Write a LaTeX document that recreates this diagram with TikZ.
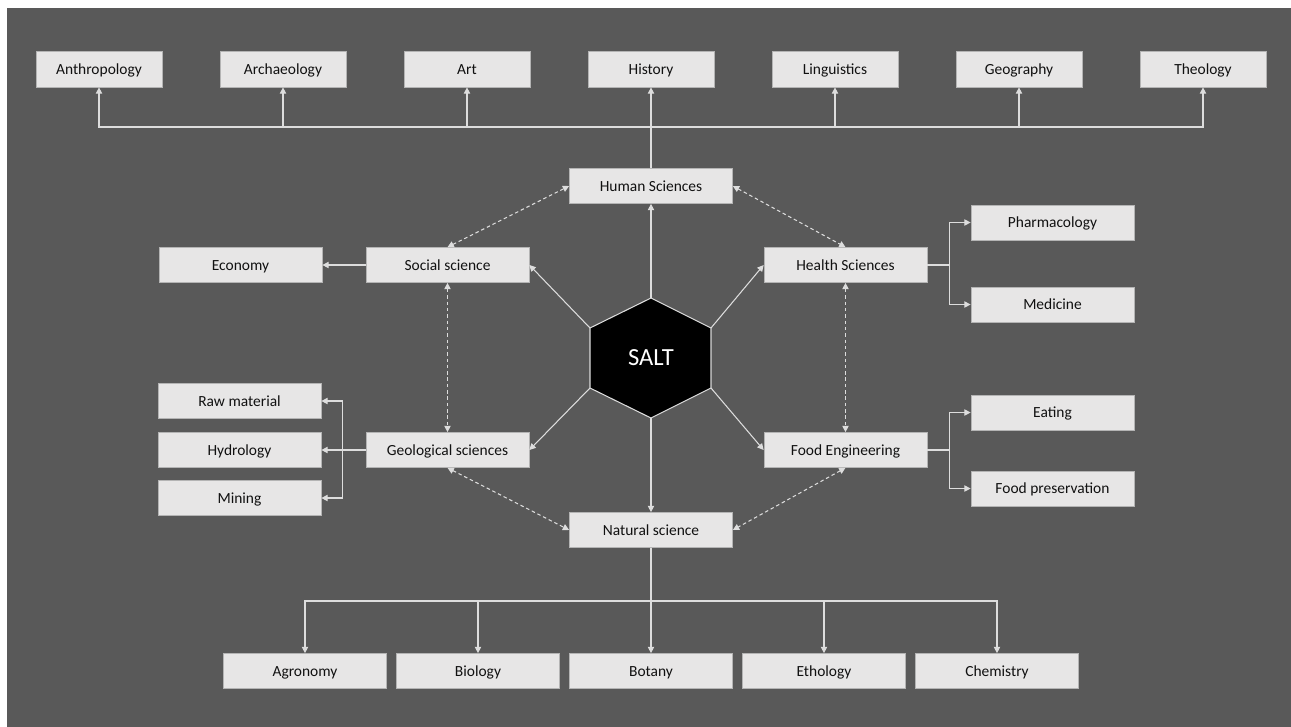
\documentclass[tikz,border=0pt]{standalone}
\usepackage{fontspec}
\setmainfont{Carlito}
\usetikzlibrary{positioning,arrows.meta}
\definecolor{bgcol}{HTML}{595959}
\definecolor{boxfill}{HTML}{E7E6E6}
\definecolor{boxline}{HTML}{B4B4B4}
\definecolor{linecol}{HTML}{DDDDDD}
\definecolor{txtcol}{HTML}{111111}
\begin{document}
\begin{tikzpicture}[node distance={36.8mm}, main/.style = {draw=boxline, fill=boxfill, text=txtcol, minimum width=32.6mm, minimum height=7mm, inner sep=0pt, text height=1.6ex, text depth=0.4ex, font=\fontsize{8.8}{10}\selectfont}, top/.style = {main, minimum width=25.2mm, minimum height=7.2mm}, link/.style = {draw=linecol, line width=0.6pt}, dashlink/.style = {link, dash pattern=on 2pt off 1.6pt}, >={Triangle[length=3.6pt,width=3.6pt]}]
      \useasboundingbox (0,0) rectangle (25.82,-14.54);
      \fill[bgcol] (0.14,-0.16) rectangle (25.82,-14.54);

      % hexagon
      \coordinate (h1) at (13.02,-5.96);
      \coordinate (h2) at (14.22,-6.56);
      \coordinate (h3) at (14.22,-7.76);
      \coordinate (h4) at (13.02,-8.36);
      \coordinate (h5) at (11.80,-7.76);
      \coordinate (h6) at (11.80,-6.56);
      \draw[link, fill=black] (h1) -- (h2) -- (h3) -- (h4) -- (h5) -- (h6) -- cycle;
      \node[text=white, font=\fontsize{14}{16}\selectfont] (1) at (13.02,-7.16) {SALT};

      \node[main] (2) at (13.02,-3.72) {Human Sciences};
      \node[main] (3) at (8.95,-5.30) {Social science};
      \node[main] (4) at (16.91,-5.30) {Health Sciences};
      \node[main] (5) at (8.95,-9.00) {Geological sciences};
      \node[main] (6) at (16.91,-9.00) {Food Engineering};
      \node[main] (7) at (13.02,-10.60) {Natural science};

      \node[top] (14) at (13.02,-1.38) {History};
      \node[top] (13) [left of=14] {Art};
      \node[top] (12) [left of=13] {Archaeology};
      \node[top] (11) [left of=12] {Anthropology};
      \node[top] (15) [right of=14] {Linguistics};
      \node[top] (16) [right of=15] {Geography};
      \node[top] (17) [right of=16] {Theology};

      \node[main] (21) [left of=3, node distance=41.4mm] {Economy};
      \node[main] (22) at (21.05,-4.45) {Pharmacology};
      \node[main] (23) at (21.05,-6.09) {Medicine};
      \node[main] (24) at (4.79,-8.02) {Raw material};
      \node[main] (25) [left of=5, node distance=41.6mm] {Hydrology};
      \node[main] (26) at (4.79,-9.96) {Mining};
      \node[main] (27) at (21.05,-8.25) {Eating};
      \node[main] (28) at (21.05,-9.77) {Food preservation};

      \node[main] (33) at (13.02,-13.42) {Botany};
      \node[main] (32) [left of=33, node distance=34.6mm] {Biology};
      \node[main] (31) [left of=32, node distance=34.6mm] {Agronomy};
      \node[main] (34) [right of=33, node distance=34.6mm] {Ethology};
      \node[main] (35) [right of=34, node distance=34.6mm] {Chemistry};

      \coordinate (t) at (13.02,-2.54);
      \coordinate (b) at (13.02,-12.02);

      % from the centre
      \draw[link, ->] (h1) -- (2);
      \draw[link, ->] (h6) -- (3.east);
      \draw[link, ->] (h2) -- (4.west);
      \draw[link, ->] (h5) -- (5.east);
      \draw[link, ->] (h3) -- (6.west);
      \draw[link, ->] (h4) -- (7);

      % between the fields
      \draw[dashlink, <->] (3.north) -- (2.west);
      \draw[dashlink, <->] (2.east) -- (4.north);
      \draw[dashlink, <->] (3.south) -- (5.north);
      \draw[dashlink, <->] (4.south) -- (6.north);
      \draw[dashlink, <->] (5.south) -- (7.west);
      \draw[dashlink, <->] (6.south) -- (7.east);

      % branches
      \foreach \n in {11,...,17}
        \draw[link, ->] (2.north) -- (t) -| (\n.south);
      \foreach \n in {31,...,35}
        \draw[link, ->] (7.south) -- (b) -| (\n.north);
      \draw[link, ->] (3.west) -- (21.east);
      \draw[link, ->] (4.east) -- ++(0.44,0) |- (22.west);
      \draw[link, ->] (4.east) -- ++(0.44,0) |- (23.west);
      \draw[link, ->] (6.east) -- ++(0.44,0) |- (27.west);
      \draw[link, ->] (6.east) -- ++(0.44,0) |- (28.west);
      \draw[link, ->] (5.west) -- ++(-0.46,0) |- (24.east);
      \draw[link, ->] (5.west) -- (25.east);
      \draw[link, ->] (5.west) -- ++(-0.46,0) |- (26.east);
    \end{tikzpicture}
\end{document}
